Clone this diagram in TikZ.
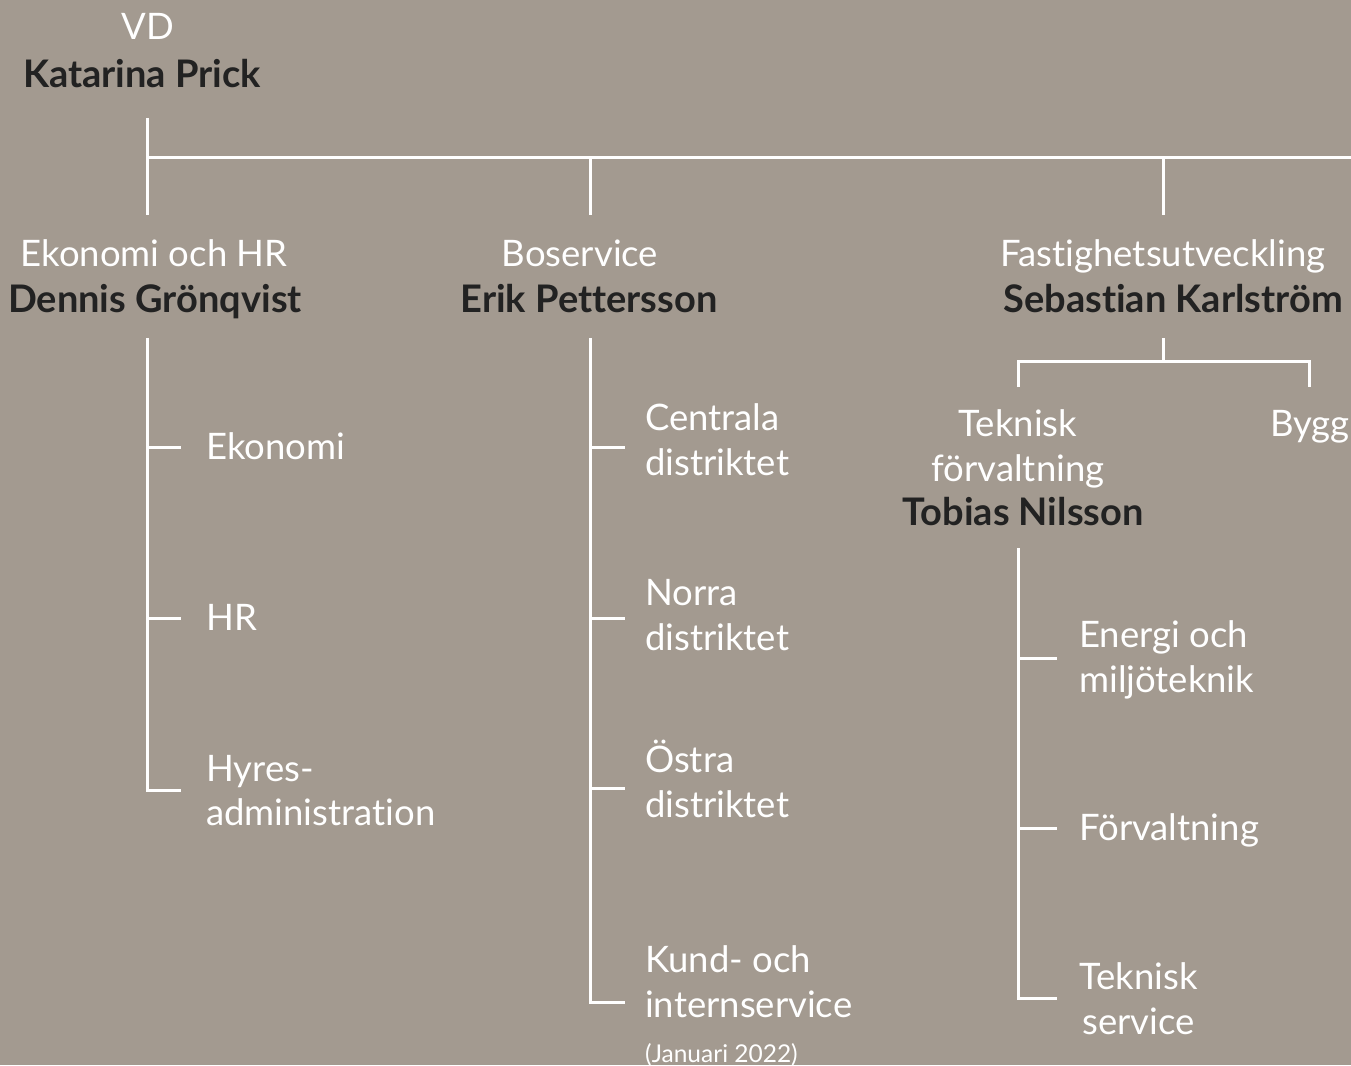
\documentclass[tikz,border=0pt]{standalone}
\usepackage{fontspec}
\setmainfont{Lato}[Ligatures={NoCommon}]
\definecolor{bg}{HTML}{A39A90}
\definecolor{dark}{HTML}{222222}
\begin{document}
\begin{tikzpicture}[x=1pt,y=-1pt,
  ln/.style={draw=white, line width=3pt},
  reg/.style={inner sep=0pt, text=white, font=\fontsize{36.5}{44}\selectfont},
  bld/.style={inner sep=0pt, text=dark, font=\fontsize{38}{44}\selectfont\bfseries},
  sml/.style={inner sep=0pt, text=white, font=\fontsize{24.5}{28}\selectfont}]
\fill[bg] (0,0) rectangle (1351,1065);
\useasboundingbox (0,0) rectangle (1351,1065);
% top
\node[reg, anchor=base] (vd) at (148,40) {VD};
\node[bld, anchor=base] (kp) at (142,87) {Katarina Prick};
\coordinate (vdt) at (147,118);
\coordinate (vdb) at (147,215);
\coordinate (hl) at (147,157);
\coordinate (hr) at (1351,157);
\coordinate (b1) at (590,157);
\coordinate (b1b) at (590,215);
\coordinate (f1) at (1163,157);
\coordinate (f1b) at (1163,215);
\draw[ln] (vdt) -- (vdb);
\draw[ln] (hl) -- (hr);
\draw[ln] (b1) -- (b1b);
\draw[ln] (f1) -- (f1b);
% level 2 headers
\node[reg, anchor=base] (ek) at (154,266) {Ekonomi och HR};
\node[bld, anchor=base] (dg) at (155,312) {Dennis Grönqvist};
\node[reg, anchor=base] (bs) at (580,266) {Boservice};
\node[bld, anchor=base] (ep) at (589,312) {Erik Pettersson};
\node[reg, anchor=base] (fu) at (1163,266) {Fastighetsutveckling};
\node[bld, anchor=base] (sk) at (1173,312) {Sebastian Karlström};
% Ekonomi och HR column
\coordinate (e0) at (147,338);
\coordinate (e1) at (147,447);
\coordinate (e2) at (147,618);
\coordinate (e3) at (147,790);
\coordinate (e1t) at (181,447);
\coordinate (e2t) at (181,618);
\coordinate (e3t) at (181,790);
\draw[ln] (e0) -- (e3) -- (e3t);
\draw[ln] (e1) -- (e1t);
\draw[ln] (e2) -- (e2t);
\node[reg, anchor=base west] (eko) at (206,459) {Ekonomi};
\node[reg, anchor=base west] (hr) at (206,630) {HR};
\node[reg, anchor=base west] (hy1) at (206,781) {Hyres-};
\node[reg, anchor=base west] (hy2) at (206,825) {administration};
% Boservice column
\coordinate (c0) at (590,338);
\coordinate (c1) at (590,447);
\coordinate (c2) at (590,618);
\coordinate (c3) at (590,788);
\coordinate (c4) at (590,1002);
\coordinate (c1t) at (625,447);
\coordinate (c2t) at (625,618);
\coordinate (c3t) at (625,788);
\coordinate (c4t) at (625,1002);
\draw[ln] (c0) -- (c4) -- (c4t);
\draw[ln] (c1) -- (c1t);
\draw[ln] (c2) -- (c2t);
\draw[ln] (c3) -- (c3t);
\node[reg, anchor=base west] (cd1) at (645,430) {Centrala};
\node[reg, anchor=base west] (cd2) at (645,475) {distriktet};
\node[reg, anchor=base west] (nd1) at (645,605) {Norra};
\node[reg, anchor=base west] (nd2) at (645,650) {distriktet};
\node[reg, anchor=base west] (od1) at (645,772) {Östra};
\node[reg, anchor=base west] (od2) at (645,817) {distriktet};
\node[reg, anchor=base west] (ki1) at (645,972) {Kund- och};
\node[reg, anchor=base west] (ki2) at (645,1017) {internservice};
\node[sml, anchor=base west] (jan) at (645,1062) {(Januari 2022)};
% Fastighetsutveckling branch
\coordinate (s0) at (1163,338);
\coordinate (s1) at (1163,361);
\coordinate (sl) at (1018,361);
\coordinate (slb) at (1018,387);
\coordinate (sr) at (1309,361);
\coordinate (srb) at (1309,387);
\draw[ln] (s0) -- (s1);
\draw[ln] (slb) -- (sl) -- (sr) -- (srb);
\node[reg, anchor=base] (tf1) at (1018,436) {Teknisk};
\node[reg, anchor=base] (tf2) at (1018,481) {förvaltning};
\node[bld, anchor=base] (tn) at (1023,525) {Tobias Nilsson};
\node[reg, anchor=base] (by) at (1310,436) {Bygg};
% Teknisk förvaltning column
\coordinate (t0) at (1018,548);
\coordinate (t1) at (1018,658);
\coordinate (t2) at (1018,828);
\coordinate (t3) at (1018,998);
\coordinate (t1t) at (1057,658);
\coordinate (t2t) at (1057,828);
\coordinate (t3t) at (1057,998);
\draw[ln] (t0) -- (t3) -- (t3t);
\draw[ln] (t1) -- (t1t);
\draw[ln] (t2) -- (t2t);
\node[reg, anchor=base west] (em1) at (1079,647) {Energi och};
\node[reg, anchor=base west] (em2) at (1079,692) {miljöteknik};
\node[reg, anchor=base west] (fv) at (1079,840) {Förvaltning};
\node[reg, anchor=base west] (ts1) at (1079,989) {Teknisk};
\node[reg, anchor=base] (ts2) at (ts1.base |- 0,1034) {service};
\end{tikzpicture}
\end{document}
